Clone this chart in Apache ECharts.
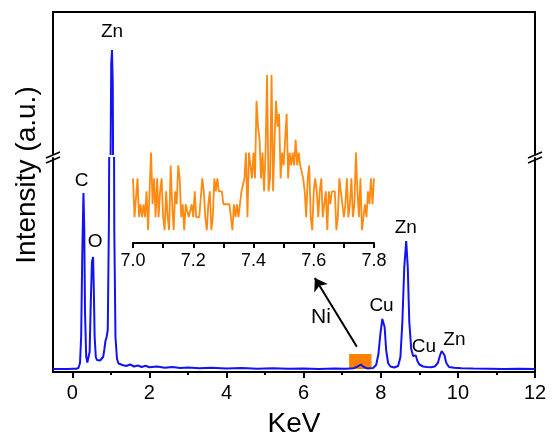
<!DOCTYPE html>
<html>
<head>
<meta charset="utf-8">
<script src="https://cdn.jsdelivr.net/npm/echarts@6/dist/echarts.min.js"></script>
<style>html,body{margin:0;padding:0;background:#fff}#c{width:553px;height:439px}</style>
</head>
<body>
<div id="c"></div>
<script>
// ---- Main EDS spectrum (energy in keV, intensity in arbitrary counts) ----
var energyKeV = [-0.50,-0.40,-0.30,-0.20,-0.10,0.00,0.10,0.16,0.20,0.23,0.26,0.29,0.31,0.33,0.36,0.39,0.42,0.45,0.48,0.51,0.54,0.56,0.58,0.61,0.64,0.68,0.72,0.76,0.80,0.83,0.86,0.89,0.92,0.95,0.98,1.01,1.03,1.05,1.07,1.09,1.12,1.16,1.20,1.25,1.30,1.35,1.40,1.50,1.60,1.70,1.80,1.90,2.00,2.20,2.40,2.60,2.80,3.00,3.30,3.60,4.00,4.40,4.80,5.20,5.60,6.00,6.40,6.80,7.10,7.30,7.40,7.48,7.56,7.65,7.80,7.88,7.94,7.99,8.04,8.07,8.10,8.14,8.19,8.25,8.35,8.45,8.51,8.56,8.61,8.66,8.70,8.74,8.79,8.84,8.88,8.91,8.95,9.00,9.10,9.20,9.30,9.40,9.48,9.54,9.58,9.61,9.65,9.70,9.77,9.90,10.10,10.40,10.80,11.20,11.60,12.00];
var intensityCounts = [30,31,29,31,30,32,33,40,90,350,1200,1790,1450,600,160,95,100,200,700,1100,1150,800,350,150,120,135,115,130,150,220,310,350,420,1500,4200,5900,6040,5700,3800,1400,350,130,85,95,70,80,60,75,55,65,50,62,48,55,42,50,40,46,38,42,35,39,33,37,32,35,31,34,32,38,55,75,50,36,40,70,180,380,530,550,450,220,90,55,45,60,150,500,1050,1310,1050,500,230,160,175,165,110,75,55,50,48,55,90,170,210,220,170,90,50,42,38,35,33,31,32,30];

// ---- Inset: Ni region, 7.0 - 7.8 keV, channel step 0.005 keV ----
var insetStart = 7.0, insetStep = 0.005;
var insetCounts = [
 4,1,1,4,1,2,1,2,1,3,0,3,6,2,4,1,4,1,3,4,1,
 0,3,1,0,5,2,0,3,2,5,4,1,2,0,2,2,1,1,2,1,
 3,1,1,1,1,4,3,1,0,2,3,0,1,4,3,4,3,3,3,2,
 2,2,2,2,2,0,2,1,2,1,2,3,3,4,6,1,6,6,4,6,
 4,10,8,7,4,6,3,6,12,3,4,12,3,7,10,8,9,4,6,5,
 7,9,4,6,5,6,5,7,5,6,5,5,4,3,1,4,5,1,0,3,
 4,3,1,3,4,1,2,3,0,3,2,3,3,3,0,1,4,3,2,1,
 2,4,1,2,4,1,2,6,3,1,4,0,0,2,1,3,2,4,2,4];

// ---- Tick values ----
var xTickLabels = [0,2,4,6,8,10,12];
var xMinorTicks = [1,3,5,7,9,11];
var insetTicks = [7.0,7.1,7.2,7.3,7.4,7.5,7.6,7.7,7.8];
var insetTickLabels = [7.0,7.2,7.4,7.6,7.8];

// ---- Peak annotations [energy, intensity, label] ----
var peakLabelsLower = [[0.24,1915,'C'],[0.59,1305,'O'],[8.02,660,'Cu'],[8.65,1440,'Zn'],[9.12,250,'Cu'],[9.91,325,'Zn']];
var peakLabelsUpper = [[1.03,6225,'Zn']];
var niLabel = [6.45,545,'Ni'];
var niBox = [[7.18,30],[7.76,180]];
var niArrow = [[7.38,253],[6.29,940]];

var FONT = 'Liberation Sans, Arial, Helvetica, sans-serif';
var BLUE = '#1212f2', ORANGE = '#ff8a12', BLACK = '#000';

var mainData = energyKeV.map(function(e,i){return [e,intensityCounts[i]];});
var insetData = insetCounts.map(function(c,i){return [+(insetStart+i*insetStep).toFixed(3),c];});

function lineAxisStyle(){return {show:true,onZero:false,lineStyle:{color:BLACK,width:2}};}
function bareY(grid,min,max,pos){
  return {type:'value',gridIndex:grid,min:min,max:max,position:pos,axisLine:lineAxisStyle(),
    axisTick:{show:false},axisLabel:{show:false},splitLine:{show:false}};
}
var labelCfg = {show:true,position:'inside',color:BLACK,fontSize:19,fontFamily:FONT,opacity:1,
  formatter:function(p){return p.data.value[2];}};

var chart = echarts.init(document.getElementById('c'),null,{renderer:'canvas'});
var option = {
  animation:false,
  backgroundColor:'#fff',
  textStyle:{fontFamily:FONT},
  grid:[
    {left:53,right:18,top:158,bottom:67},
    {left:53,right:18,top:12,height:142},
    {left:133,right:179,top:75,height:168}
  ],
  xAxis:[
    {type:'value',gridIndex:0,min:-0.5,max:12,position:'bottom',axisLine:lineAxisStyle(),
     axisTick:{show:true,customValues:xTickLabels,length:6,lineStyle:{color:BLACK,width:2}},
     axisLabel:{customValues:xTickLabels,fontSize:20,color:BLACK,margin:11,fontFamily:FONT},
     splitLine:{show:false},name:'KeV',nameLocation:'middle',nameGap:38,
     nameTextStyle:{fontSize:28,color:BLACK,fontFamily:FONT}},
    {type:'value',gridIndex:0,min:-0.5,max:12,position:'bottom',axisLine:{show:false,onZero:false},
     axisTick:{show:true,customValues:xMinorTicks,length:3,lineStyle:{color:BLACK,width:2}},
     axisLabel:{show:false},splitLine:{show:false}},
    {type:'value',gridIndex:1,min:-0.5,max:12,position:'top',axisLine:lineAxisStyle(),
     axisTick:{show:false},axisLabel:{show:false},splitLine:{show:false}},
    {type:'value',gridIndex:2,min:7.0,max:7.8,position:'bottom',axisLine:lineAxisStyle(),
     axisTick:{show:true,customValues:insetTicks,length:5,lineStyle:{color:BLACK,width:2}},
     axisLabel:{customValues:insetTickLabels,fontSize:18,color:BLACK,margin:9,fontFamily:FONT,
       formatter:function(v){return Number(v).toFixed(1);}},
     splitLine:{show:false}}
  ],
  yAxis:[
    bareY(0,0,2140,'left'),
    bareY(0,0,2140,'right'),
    bareY(1,5000,6420,'left'),
    bareY(1,5000,6420,'right'),
    {type:'value',gridIndex:2,min:-1,max:12,show:false,splitLine:{show:false}}
  ],
  series:[
    {type:'line',xAxisIndex:0,yAxisIndex:0,data:mainData,showSymbol:false,silent:true,
     lineStyle:{color:BLUE,width:2},itemStyle:{color:BLUE},z:3,
     markArea:{silent:true,itemStyle:{color:'#ff7f00',opacity:1},
       data:[[{coord:niBox[0]},{coord:niBox[1]}]]},
     markLine:{silent:true,symbol:['none','arrow'],symbolSize:12,animation:false,
       lineStyle:{color:BLACK,width:2,type:'solid',opacity:1},itemStyle:{color:BLACK},label:{show:false},
       data:[[{coord:niArrow[0]},{coord:niArrow[1]}]]}},
    {type:'line',xAxisIndex:2,yAxisIndex:2,data:mainData,showSymbol:false,silent:true,
     lineStyle:{color:BLUE,width:2}},
    {type:'line',xAxisIndex:3,yAxisIndex:4,data:insetData,showSymbol:false,silent:true,
     lineStyle:{color:ORANGE,width:1.8}},
    {type:'scatter',xAxisIndex:0,yAxisIndex:0,symbolSize:1,silent:true,
     itemStyle:{color:'rgba(0,0,0,0)',opacity:1},
     data:peakLabelsLower.map(function(d){return {value:d};}).concat([{value:niLabel,label:{fontSize:21}}]),
     label:labelCfg},
    {type:'scatter',xAxisIndex:2,yAxisIndex:2,symbolSize:1,silent:true,
     itemStyle:{color:'rgba(0,0,0,0)',opacity:1},
     data:peakLabelsUpper.map(function(d){return {value:d};}),
     label:labelCfg}
  ],
  graphic:[
    {type:'text',x:27,y:175,rotation:Math.PI/2,silent:true,
     style:{text:'Intensity (a.u.)',fontSize:28,fontFamily:FONT,fill:BLACK,align:'center',verticalAlign:'middle'}},
    {type:'line',silent:true,shape:{x1:46,y1:158,x2:60,y2:152},style:{stroke:BLACK,lineWidth:1.6}},
    {type:'line',silent:true,shape:{x1:46,y1:163,x2:60,y2:157},style:{stroke:BLACK,lineWidth:1.6}},
    {type:'line',silent:true,shape:{x1:528,y1:158,x2:542,y2:152},style:{stroke:BLACK,lineWidth:1.6}},
    {type:'line',silent:true,shape:{x1:528,y1:163,x2:542,y2:157},style:{stroke:BLACK,lineWidth:1.6}}
  ]
};
chart.setOption(option);
</script>
</body>
</html>
